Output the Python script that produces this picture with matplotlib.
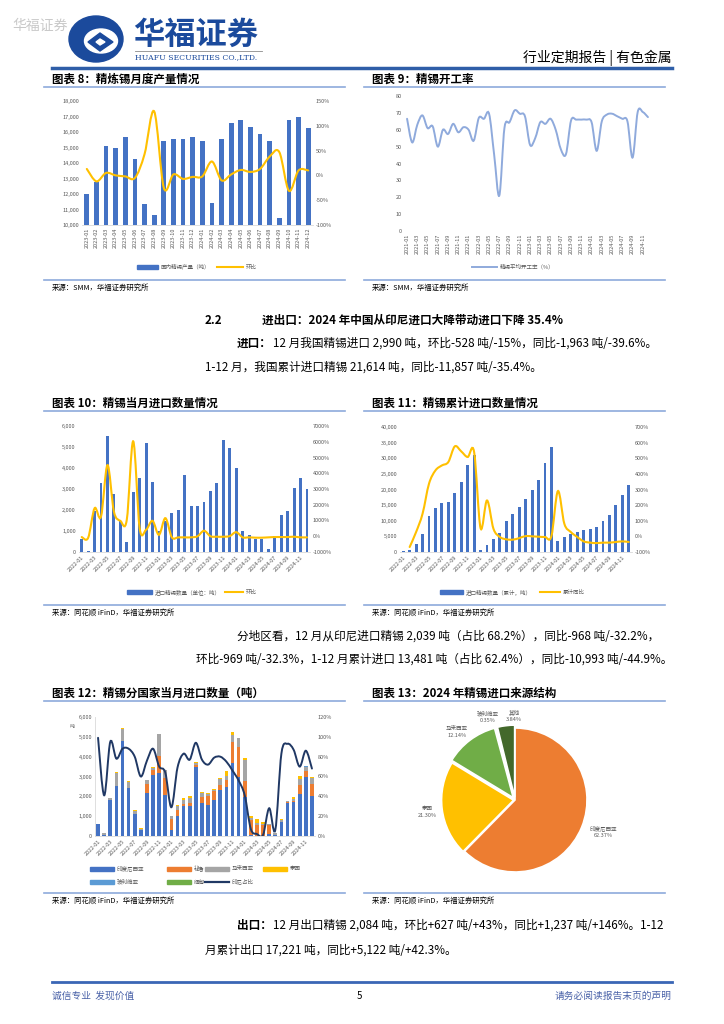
import matplotlib

matplotlib.use("Agg")
import matplotlib.pyplot as plt
import numpy as np
from matplotlib.path import Path
from matplotlib.patches import PathPatch, Ellipse, Polygon, Rectangle
from matplotlib.lines import Line2D

plt.rcParams["font.family"] = ["Noto Sans CJK SC", "DejaVu Sans"]

W, H = 724, 1024

# ---- chart 8: refined tin monthly output 2023-01..2024-12
prod_months = [f"{y}-{m:02d}" for y in (2023, 2024) for m in range(1, 13)]
prod_tons = [12000, 12800, 15100, 14950, 15650, 14250, 11350, 10650, 15450, 15550, 15550, 15650,
             15400, 11450, 15550, 16550, 16750, 16300, 15900, 15450, 10450, 16800, 16950, 16250]
prod_mom = [13, -12, 5, 0, -2, -5, 43, 129, -25, 2, -7, -3,
            -2, 28, -10, 2, 11, 7, 13, 38, 47, -31, 10, 10]

# ---- chart 9: operating rate 2021-01..2024-12
rate_months = [f"{y}-{m:02d}" for y in (2021, 2022, 2023, 2024) for m in range(1, 13)]
rate_pct = [66.5, 52.5, 63, 68.5, 61, 62, 50, 60, 57.5, 63.5, 58.5, 61.5,
            60, 53.5, 67, 66.5, 69.5, 45, 21, 61, 64.5, 71.5, 69.5, 68,
            51, 55, 64.5, 63.5, 66.5, 60, 48.5, 45.5, 65.5, 66, 66, 66,
            64.5, 47.5, 65, 69, 69.5, 68, 66.5, 65, 43.5, 70.5, 70.5, 67.5]

# ---- chart 10 / 11 / 12: imports 2022-01..2024-12
imp_months = [f"{y}-{m:02d}" for y in (2022, 2023, 2024) for m in range(1, 13)]
imp_tons = [630, 60, 1930, 3270, 5530, 2760, 1500, 460, 2880, 3520, 5180, 3350,
            1010, 1500, 1870, 2010, 3680, 2200, 2180, 2360, 2900, 3290, 5350, 4950,
            4000, 1010, 830, 630, 630, 160, 780, 1780, 1960, 3050, 3518, 2990]
imp_mom = [-50, -100, 1780, 1250, 4520, 1570, 980, 1040, 6030, 520, 410, 980,
           90, 1150, -70, -70, -70, -70, 0, 350, 0, -30, -30, 10,
           260, -70, -70, -90, -90, -70, -50, -50, -50, -30, -70, -70]

cum_tons = [320, 600, 2560, 5870, 11520, 14080, 15570, 16000, 18990, 22500, 27730, 30930,
            800, 2130, 4050, 5970, 10030, 12050, 14500, 16850, 19730, 22930, 28480, 33490,
            3630, 4910, 5870, 6400, 7150, 7470, 8110, 9820, 11950, 14930, 18350, 21550]
cum_yoy = [np.nan, -68, 28, 145, 337, 422, 454, 476, 576, 544, 508, 540,
           53, 230, 49, -4, -19, -21, -11, 2, 0, -2, -4, 2,
           290, 81, 28, -4, -32, -40, -43, -40, -40, -36, -32, -36]

src_indonesia = [600, 60, 1800, 2500, 4800, 2420, 1130, 300, 2180, 3100, 3200, 2060,
                 280, 1030, 1530, 1530, 3460, 1650, 1540, 1840, 2300, 2490, 3670, 2950,
                 1960, 50, 20, 20, 120, 50, 700, 1650, 1700, 2100, 3000, 2040]
src_peru = [0, 0, 0, 0, 0, 0, 0, 0, 450, 230, 850, 840,
            600, 280, 100, 120, 100, 330, 470, 430, 250, 350, 1080, 1550,
            800, 780, 530, 530, 440, 0, 0, 60, 50, 470, 300, 560]
src_malaysia = [30, 70, 100, 700, 600, 300, 150, 60, 170, 120, 1100, 430,
                130, 200, 200, 250, 140, 200, 120, 60, 300, 200, 320, 420,
                1050, 100, 120, 60, 60, 80, 100, 50, 130, 310, 200, 310]
src_thailand = [0, 0, 30, 30, 50, 30, 50, 30, 0, 30, 0, 0,
                0, 50, 70, 100, 20, 20, 20, 30, 50, 260, 150, 40,
                120, 100, 180, 80, 0, 20, 50, 20, 90, 170, 0, 80]
src_bolivia = [0] * 34 + [20, 0]
src_myanmar = [0] * 36
indo_share = [99, 41, 95, 78, 88, 88, 80, 60, 76, 88, 70, 64,
              29, 69, 83, 77, 94, 77, 72, 79, 80, 75, 66, 56,
              41, 7, 2, 1, 28, 6, 83, 93, 87, 70, 86, 68]

# ---- chart 13: 2024 source structure
pie_names = ["印度尼西亚", "泰国", "马来西亚", "玻利维亚", "其他"]
pie_share = [62.37, 21.30, 12.14, 0.35, 3.84]

BLUE = "#4472C4"
GOLD = "#FFC000"
TICK = "#595959"
TS = 4


def rect(x0, y0, x1, y1):
    return [x0 / W, 1 - y1 / H, (x1 - x0) / W, (y1 - y0) / H]


def smooth_line(ax, x, y, **kw):
    """Excel-style smoothed line drawn as a bezier path through the data points."""
    x = np.asarray(x, float)
    y = np.asarray(y, float)
    ok = ~np.isnan(y)
    pts = np.column_stack([x[ok], y[ok]])
    n = len(pts)
    verts, codes = [pts[0]], [Path.MOVETO]
    for i in range(n - 1):
        p0 = pts[i - 1] if i > 0 else pts[i]
        p1, p2 = pts[i], pts[i + 1]
        p3 = pts[i + 2] if i + 2 < n else pts[i + 1]
        verts += [p1 + (p2 - p0) / 6, p2 - (p3 - p1) / 6, p2]
        codes += [Path.CURVE4] * 3
    ax.add_patch(PathPatch(Path(verts, codes), fill=False, capstyle="round", **kw))


def style(ax, bottom=True):
    for s in ("top", "right", "left"):
        ax.spines[s].set_visible(False)
    ax.spines["bottom"].set_visible(bottom)
    ax.spines["bottom"].set_color("#d9d9d9")
    ax.spines["bottom"].set_linewidth(0.6)
    ax.tick_params(length=0, labelsize=TS, labelcolor=TICK, pad=2)


def right_axis(ax, lo, hi, step):
    ax2 = ax.twinx()
    ax2.set_ylim(lo, hi)
    ticks = np.arange(lo, hi + step, step)
    ax2.set_yticks(ticks, [f"{t:.0f}%" for t in ticks])
    for s in ax2.spines.values():
        s.set_visible(False)
    ax2.tick_params(length=0, labelsize=TS, labelcolor=TICK, pad=2)
    return ax2


def left_ticks(ax, lo, hi, step):
    ax.set_ylim(lo, hi)
    ticks = np.arange(lo, hi + step, step)
    ax.set_yticks(ticks, [f"{t:,.0f}" for t in ticks])


fig = plt.figure(figsize=(W / 100, H / 100), dpi=100)
page = fig.add_axes([0, 0, 1, 1])
page.set_xlim(0, W)
page.set_ylim(H, 0)
page.axis("off")


def txt(x, y, s, size=8, **kw):
    page.text(x, y, s, fontsize=size, va="center", **kw)


def hline(x0, x1, y, color, lw):
    page.add_line(Line2D([x0, x1], [y, y], color=color, lw=lw))


# ---------------- header
txt(12, 26, "华福证券", 10, color="#c9c9c9")
page.add_patch(Ellipse((96, 39), 54, 46, color="#1b4a9c"))
page.add_patch(Ellipse((101, 41), 33, 24, color="white"))
page.add_patch(Polygon([[88, 42], [100, 33], [113, 42], [100, 51]], color="#1b4a9c"))
page.add_patch(Polygon([[96, 42], [100, 39], [105, 42], [100, 45]], color="white"))
txt(133, 35, "华福证券", 22.5, weight="bold", color="#1b4a9c")
hline(135, 262, 51, "#8a8a8a", 0.6)
txt(135, 57, "HUAFU SECURITIES CO.,LTD.", 5.6, color="#1b4a9c", family="DejaVu Serif")
txt(672, 58, "行业定期报告 | 有色金属", 10, ha="right")
hline(52, 672, 68, "#2f5ea8", 2.5)

# ---------------- titles / sources
TITLE_C = "#8eaadb"
for x0, x1, y, title in ((52, 345, 79, "图表 8：精炼锡月度产量情况"),
                         (372, 665, 79, "图表 9：精锡开工率"),
                         (52, 345, 403, "图表 10：精锡当月进口数量情况"),
                         (372, 665, 403, "图表 11：精锡累计进口数量情况"),
                         (52, 345, 693, "图表 12：精锡分国家当月进口数量（吨）"),
                         (372, 665, 693, "图表 13：2024 年精锡进口来源结构")):
    txt(x0, y, title, 8.3, weight="bold")
    hline(x0 - 8, x1, y + 8, TITLE_C, 1.2)

for x0, x1, y, s in ((52, 345, 280, "来源：SMM，华福证券研究所"),
                     (372, 665, 280, "来源：SMM，华福证券研究所"),
                     (52, 345, 605, "来源：同花顺 iFinD，华福证券研究所"),
                     (372, 665, 605, "来源：同花顺 iFinD，华福证券研究所"),
                     (52, 345, 893, "来源：同花顺 iFinD，华福证券研究所"),
                     (372, 665, 893, "来源：同花顺 iFinD，华福证券研究所")):
    hline(x0 - 8, x1, y, TITLE_C, 1.2)
    txt(x0, y + 8, s, 5.3)

# ---------------- body text
BODY = 8.4
txt(205, 320, "2.2", BODY, weight="bold")
txt(262, 320, "进出口：2024 年中国从印尼进口大降带动进口下降 35.4%", BODY, weight="bold")
txt(237, 343, "进口：", BODY, weight="bold")
txt(273, 343, "12 月我国精锡进口 2,990 吨，环比-528 吨/-15%，同比-1,963 吨/-39.6%。", BODY)
txt(205, 367, "1-12 月，我国累计进口精锡 21,614 吨，同比-11,857 吨/-35.4%。", BODY)
txt(237, 636, "分地区看，12 月从印尼进口精锡 2,039 吨（占比 68.2%），同比-968 吨/-32.2%，", BODY)
txt(672, 659, "环比-969 吨/-32.3%，1-12 月累计进口 13,481 吨（占比 62.4%），同比-10,993 吨/-44.9%。", BODY, ha="right")
txt(237, 925, "出口：", BODY, weight="bold")
txt(273, 925, "12 月出口精锡 2,084 吨，环比+627 吨/+43%，同比+1,237 吨/+146%。1-12", BODY)
txt(205, 950, "月累计出口 17,221 吨，同比+5,122 吨/+42.3%。", BODY)

# ---------------- footer
hline(52, 672, 982, "#3a66b5", 2)
txt(52, 996, "诚信专业  发现价值", 7, color="#4a62a8")
txt(357, 996, "5", 7)
txt(672, 996, "请务必阅读报告末页的声明", 7, color="#4a62a8", ha="right")

# ---------------- chart 8
ax = fig.add_axes(rect(82, 101, 313, 225))
x8 = np.arange(len(prod_months))
ax.bar(x8, np.array(prod_tons) - 10000, bottom=10000, width=0.5, color=BLUE)
ax.set_xlim(-0.5, len(x8) - 0.5)
left_ticks(ax, 10000, 18000, 1000)
ax.set_xticks(x8, prod_months, rotation=90)
style(ax)
ax2 = right_axis(ax, -100, 150, 50)
smooth_line(ax2, x8, prod_mom, color=GOLD, lw=1.5)
page.add_patch(Rectangle((137, 265), 21, 4, color=BLUE))
txt(161, 267, "国内精锡产量（吨）", TS, color=TICK)
page.add_line(Line2D([217, 243], [267, 267], color=GOLD, lw=1.5))
txt(246, 267, "环比", TS, color=TICK)

# ---------------- chart 9
ax = fig.add_axes(rect(404.5, 96, 650.5, 231))
x9 = np.arange(len(rate_months))
smooth_line(ax, x9, rate_pct, color="#8faadc", lw=1.4)
ax.set_xlim(-0.5, len(x9) - 0.5)
left_ticks(ax, 0, 80, 10)
ax.set_xticks(x9[::2], rate_months[::2], rotation=90)
style(ax, bottom=False)
page.add_line(Line2D([472, 497], [267, 267], color="#8faadc", lw=1.4))
txt(500, 267, "精锡平均开工率（%）", TS, color=TICK)

# ---------------- chart 10
ax = fig.add_axes(rect(78.5, 426, 310.2, 552))
x10 = np.arange(len(imp_months))
ax.bar(x10, imp_tons, width=0.45, color=BLUE)
ax.set_xlim(-0.5, len(x10) - 0.5)
left_ticks(ax, 0, 6000, 1000)
ax.set_xticks(x10[::2], imp_months[::2], rotation=45, ha="right", rotation_mode="anchor")
style(ax)
ax2 = right_axis(ax, -1000, 7000, 1000)
smooth_line(ax2, x10, imp_mom, color=GOLD, lw=1.5)
page.add_patch(Rectangle((127, 590), 25, 4, color=BLUE))
txt(155, 592, "进口精锡数量（单位：吨）", TS, color=TICK)
page.add_line(Line2D([225, 243], [592, 592], color=GOLD, lw=1.5))
txt(246, 592, "环比", TS, color=TICK)

# ---------------- chart 11
ax = fig.add_axes(rect(400, 427, 632, 552))
ax.bar(x10, cum_tons, width=0.45, color=BLUE)
ax.set_xlim(-0.5, len(x10) - 0.5)
left_ticks(ax, 0, 40000, 5000)
ax.set_xticks(x10[::2], imp_months[::2], rotation=45, ha="right", rotation_mode="anchor")
style(ax)
ax2 = right_axis(ax, -100, 700, 100)
smooth_line(ax2, x10, cum_yoy, color=GOLD, lw=1.5)
page.add_patch(Rectangle((440, 590), 23, 4, color=BLUE))
txt(466, 592, "进口精锡数量（累计，吨）", TS, color=TICK)
page.add_line(Line2D([540, 560], [592, 592], color=GOLD, lw=1.5))
txt(563, 592, "累计同比", TS, color=TICK)

# ---------------- chart 12
ax = fig.add_axes(rect(95, 717, 315, 836))
series = [("印度尼西亚", src_indonesia, "#4472C4"), ("秘鲁", src_peru, "#ED7D31"),
          ("马来西亚", src_malaysia, "#A5A5A5"), ("泰国", src_thailand, "#FFC000"),
          ("玻利维亚", src_bolivia, "#5B9BD5"), ("缅甸", src_myanmar, "#70AD47")]
base = np.zeros(len(x10))
for name, vals, c in series:
    ax.bar(x10, vals, bottom=base, width=0.6, color=c)
    base += np.array(vals, float)
ax.set_xlim(-0.5, len(x10) - 0.5)
left_ticks(ax, 0, 6000, 1000)
ax.set_xticks(x10[::2], imp_months[::2], rotation=45, ha="right", rotation_mode="anchor")
style(ax)
ax.spines["left"].set_visible(True)
ax.spines["left"].set_color("#d9d9d9")
ax.spines["left"].set_linewidth(0.6)
ax2 = right_axis(ax, 0, 120, 20)
smooth_line(ax2, x10, indo_share, color="#203864", lw=1.4)
txt(70, 726, "吨", 3.5, color=TICK)
legend_pos = [(90, 869), (167, 869), (205, 869), (263, 869), (90, 882), (167, 882)]
for (lx, ly), (name, vals, c) in zip(legend_pos, series):
    page.add_patch(Rectangle((lx, ly - 2), 24, 4, color=c))
    txt(lx + 27, ly, name, TS, color=TICK)
page.add_line(Line2D([205, 229], [882, 882], color="#203864", lw=1.6))
txt(232, 882, "印尼占比", TS, color=TICK)

# ---------------- chart 13
ax = fig.add_axes(rect(443, 728, 587, 872))
ax.pie(pie_share, startangle=90, counterclock=False, radius=1,
       colors=["#ED7D31", "#FFC000", "#70AD47", "#F4B183", "#43682B"],
       explode=[0.0, 0.02, 0.04, 0.04, 0.04],
       wedgeprops=dict(edgecolor="white", linewidth=1.2))
ax.set_xlim(-1, 1)
ax.set_ylim(-1, 1)
ax.set_aspect("equal")
ax.axis("off")
for (lx, ly), name, v in zip([(603, 832), (427, 812), (457, 732), (488, 717), (514, 716)],
                             pie_names, pie_share):
    txt(lx, ly, f"{name}\n{v:.2f}%", TS, color=TICK, ha="center", linespacing=1.3)

fig.savefig("out.png", dpi=100)
